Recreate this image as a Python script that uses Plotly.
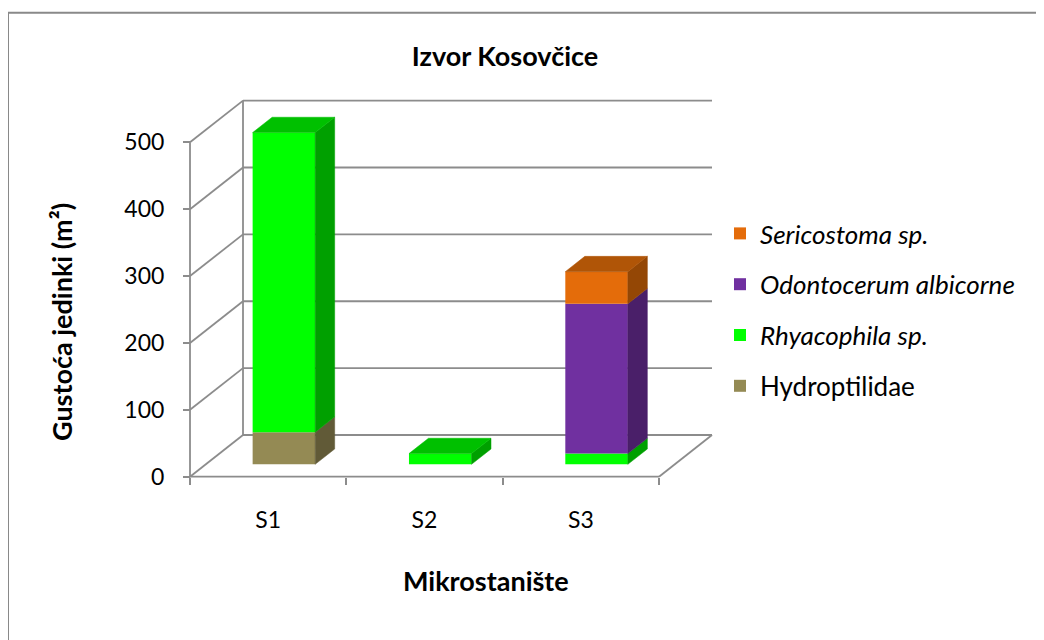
import plotly.graph_objects as go

# ---------------- data ----------------
categories = ["S1", "S2", "S3"]
hydroptilidae = [48, 0, 0]
rhyacophila = [448, 16, 16]
odontocerum = [0, 0, 224]
sericostoma = [0, 0, 48]
y_ticks = [0, 100, 200, 300, 400, 500]

series_names = ["Hydroptilidae", "<i>Rhyacophila sp.</i>",
                "<i>Odontocerum albicorne</i>", "<i>Sericostoma sp.</i>"]
series_values = [hydroptilidae, rhyacophila, odontocerum, sericostoma]
front_colors = ["#948A54", "#00FF00", "#7030A0", "#E46C0A"]
top_colors = ["#7A7146", "#00C000", "#5A2680", "#B05507"]
side_colors = ["#615A37", "#00A000", "#4A1F69", "#944705"]
legend_ranks = [4, 3, 2, 1]

# ---------------- layout geometry ----------------
W, H = 1044, 640
OFF = 8                                  # page body margin compensation
L, R, T, B = 170, 730, 85, 490           # plot area in (figure) pixels
X0_PX, X3_PX = 190 - OFF, 659 - OFF      # front floor x extent
Y0_PX, YTOP_PX = 476.7 - OFF, 142.3 - OFF
kx = (X3_PX - X0_PX) / len(categories)
ky = (Y0_PX - YTOP_PX) / y_ticks[-1]
xmin, xmax = (L - X0_PX) / kx, (R - X0_PX) / kx
ymin, ymax = -(B - Y0_PX) / ky, (Y0_PX - T) / ky
DX, DY = 53 / kx, 41.7 / ky              # depth of the 3D box
F0, F1 = 0.297, 0.665                    # bar depth span (fractions)
BAR_W = 0.4
NCAT = len(categories)

FONT = "Lato"
GRID = "#8C8C8C"
LW = 1.8


def px2paper_x(px):
    return (px - OFF - L) / (R - L)


def px2paper_y(py):
    return (B - (py - OFF)) / (B - T)


fig = go.Figure()

# ---------------- walls / grid (shapes below traces) ----------------
shapes = []


def seg(x0, y0, x1, y1):
    shapes.append(dict(type="line", xref="x", yref="y", x0=x0, y0=y0, x1=x1, y1=y1,
                       line=dict(color=GRID, width=LW), layer="below"))


for v in y_ticks:
    seg(DX, v + DY, NCAT + DX, v + DY)     # back wall gridline
    seg(0, v, DX, v + DY)                  # side wall diagonal
seg(DX, DY, DX, y_ticks[-1] + DY)          # back wall left edge
seg(0, 0, 0, y_ticks[-1])                  # front value axis
seg(0, 0, NCAT, 0)                         # floor front edge
seg(NCAT, 0, NCAT + DX, DY)                # floor right edge

# chart-area border
shapes.append(dict(type="rect", xref="paper", yref="paper",
                   x0=px2paper_x(8), y0=px2paper_y(720),
                   x1=px2paper_x(1100), y1=px2paper_y(12.7),
                   line=dict(color="#898989", width=2), fillcolor="rgba(0,0,0,0)",
                   layer="below"))

# ---------------- bars ----------------
cum = [0.0] * NCAT
bounds = []
for s, vals in enumerate(series_values):
    bases = cum[:]
    bounds.append([(bases[i], bases[i] + vals[i]) for i in range(NCAT)])
    fig.add_trace(go.Bar(
        x=[i + 0.5 + F0 * DX for i in range(NCAT)],
        y=vals,
        base=[b + F0 * DY for b in bases],
        width=BAR_W,
        name=series_names[s],
        marker=dict(color=front_colors[s], line=dict(width=0)),
        legendgroup=series_names[s],
        legendrank=legend_ranks[s],
        hoverinfo="skip",
    ))
    cum = [cum[i] + vals[i] for i in range(NCAT)]

# side and top faces
for s, vals in enumerate(series_values):
    for i in range(NCAT):
        b, t = bounds[s][i]
        if vals[i] <= 0:
            continue
        xl = i + 0.5 - BAR_W / 2
        xr = i + 0.5 + BAR_W / 2
        sx = [xr + F0 * DX, xr + F1 * DX, xr + F1 * DX, xr + F0 * DX, xr + F0 * DX]
        sy = [b + F0 * DY, b + F1 * DY, t + F1 * DY, t + F0 * DY, b + F0 * DY]
        fig.add_trace(go.Scatter(x=sx, y=sy, mode="lines", fill="toself",
                                 fillcolor=side_colors[s],
                                 line=dict(color=side_colors[s], width=0.5),
                                 showlegend=False, hoverinfo="skip"))
        if abs(t - cum[i]) < 1e-9:
            tx = [xl + F0 * DX, xr + F0 * DX, xr + F1 * DX, xl + F1 * DX, xl + F0 * DX]
            ty = [t + F0 * DY, t + F0 * DY, t + F1 * DY, t + F1 * DY, t + F0 * DY]
            fig.add_trace(go.Scatter(x=tx, y=ty, mode="lines", fill="toself",
                                     fillcolor=top_colors[s],
                                     line=dict(color=top_colors[s], width=0.5),
                                     showlegend=False, hoverinfo="skip"))

# ---------------- layout ----------------
fig.update_layout(
    width=W, height=H,
    margin=dict(l=L, r=W - R, t=T, b=H - B),
    paper_bgcolor="white", plot_bgcolor="white",
    barmode="overlay",
    font=dict(family=FONT, color="#000000", size=23),
    shapes=shapes,
    showlegend=True,
    legend=dict(x=px2paper_x(720), y=px2paper_y(310), xanchor="left", yanchor="middle",
                traceorder="grouped", tracegroupgap=14,
                font=dict(family=FONT, size=26, color="#000000"),
                bgcolor="rgba(0,0,0,0)"),
    title=dict(text="<b>Izvor Kosovčice</b>", x=(505 - OFF) / W, xref="container",
               y=1 - (57 - OFF) / H, yref="container", xanchor="center", yanchor="middle",
               font=dict(family=FONT, size=27, color="#000000")),
    xaxis=dict(range=[xmin, xmax], domain=[0, 1], showgrid=False, zeroline=False,
               showline=False, tickvals=[i + 0.5 for i in range(NCAT)],
               ticktext=categories, ticks="", ticklabelstandoff=27,
               anchor="free", position=(0 - ymin) / (ymax - ymin),
               minor=dict(ticks="outside", tick0=0, dtick=1, ticklen=7,
                          tickcolor=GRID, tickwidth=LW, showgrid=False),
               tickfont=dict(family=FONT, size=23), fixedrange=True),
    yaxis=dict(range=[ymin, ymax], domain=[0, 1], showgrid=False, zeroline=False,
               showline=False, tickvals=y_ticks, ticks="outside", ticklen=7,
               tickcolor=GRID, tickwidth=LW, ticklabelstandoff=14,
               anchor="free", position=(0 - xmin) / (xmax - xmin),
               tickfont=dict(family=FONT, size=23), fixedrange=True),
    annotations=[
        dict(text="<b>Mikrostanište</b>", xref="paper", yref="paper",
             x=px2paper_x(486), y=px2paper_y(580), xanchor="center", yanchor="middle",
             showarrow=False, font=dict(family=FONT, size=27, color="#000000")),
        dict(text="<b>Gustoća jedinki (m²)</b>", xref="paper", yref="paper",
             x=px2paper_x(61), y=px2paper_y(322), xanchor="center", yanchor="middle",
             textangle=-90, showarrow=False,
             font=dict(family=FONT, size=27, color="#000000")),
    ],
)

fig.write_html("out.html")
